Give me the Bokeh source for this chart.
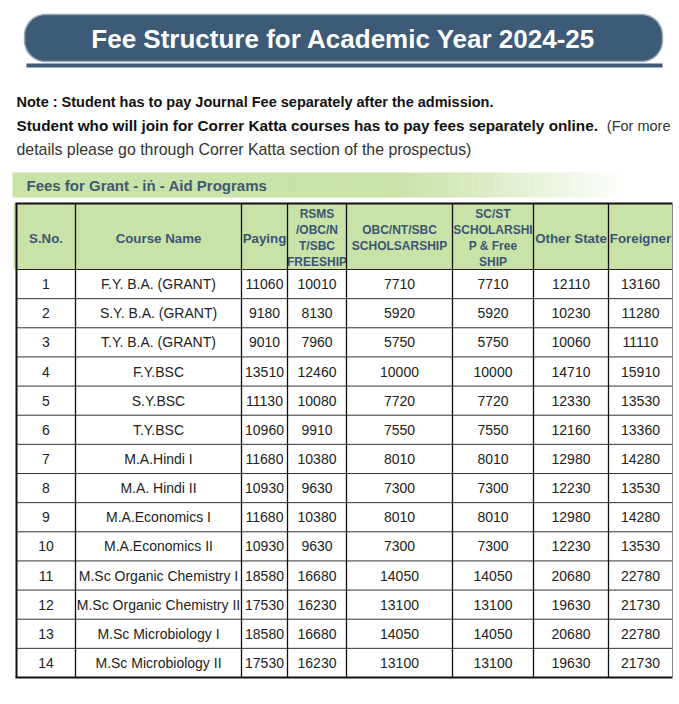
import numpy as np
from bokeh.plotting import figure
from bokeh.models import Range1d
from bokeh.core.properties import value
from bokeh.embed import file_html
from bokeh.resources import INLINE

# ---------------- data ----------------
title_text = "Fee Structure for Academic Year 2024-25"
note_line1 = "Note : Student has to pay Journal Fee separately after the admission."
note_line2_bold = "Student who will join for Correr Katta courses has to pay fees separately online."
note_line2_normal = "(For more"
note_line3 = "details please go through Correr Katta section of the prospectus)"
section_title = "Fees for Grant - iṅ - Aid Programs"

headers = [
    ["S.No."],
    ["Course Name"],
    ["Paying"],
    ["RSMS", "/OBC/N", "T/SBC", "FREESHIP"],
    ["OBC/NT/SBC", "SCHOLSARSHIP"],
    ["SC/ST", "SCHOLARSHI", "P & Free", "SHIP"],
    ["Other State"],
    ["Foreigner"],
]

sno = [str(i) for i in range(1, 15)]
courses = ["F.Y. B.A. (GRANT)", "S.Y. B.A. (GRANT)", "T.Y. B.A. (GRANT)", "F.Y.BSC",
           "S.Y.BSC", "T.Y.BSC", "M.A.Hindi I", "M.A. Hindi II", "M.A.Economics I",
           "M.A.Economics II", "M.Sc Organic Chemistry I", "M.Sc Organic Chemistry II",
           "M.Sc Microbiology I", "M.Sc Microbiology II"]
paying = [11060, 9180, 9010, 13510, 11130, 10960, 11680, 10930, 11680, 10930, 18580, 17530, 18580, 17530]
rsms = [10010, 8130, 7960, 12460, 10080, 9910, 10380, 9630, 10380, 9630, 16680, 16230, 16680, 16230]
obc_schol = [7710, 5920, 5750, 10000, 7720, 7550, 8010, 7300, 8010, 7300, 14050, 13100, 14050, 13100]
scst_schol = [7710, 5920, 5750, 10000, 7720, 7550, 8010, 7300, 8010, 7300, 14050, 13100, 14050, 13100]
other_state = [12110, 10230, 10060, 14710, 12330, 12160, 12980, 12230, 12980, 12230, 20680, 19630, 20680, 19630]
foreigner = [13160, 11280, 11110, 15910, 13530, 13360, 14280, 13530, 14280, 13530, 22780, 21730, 22780, 21730]

# ---------------- layout / style ----------------
FONT = value("Liberation Sans")
SLATE = "#3d5a77"
HEAD_TXT = "#3c5672"
GREEN = "#c9e2a8"

col_edges = [16, 75, 241, 287, 346, 452, 533, 608, 672]
table_top, header_bottom, table_bottom = 203, 269, 677

W, H = 676, 696
p = figure(width=W, height=H, x_range=Range1d(0, W), y_range=Range1d(H, 0),
           output_backend="svg", toolbar_location=None, min_border=0,
           x_axis_location=None, y_axis_location=None)
p.grid.visible = False
p.outline_line_color = None
p.background_fill_color = "white"
p.border_fill_color = "white"


def rounded_rect(x0, y0, x1, y1, r):
    xs, ys = [], []
    corners = [(x1 - r, y0 + r, -np.pi / 2, 0), (x1 - r, y1 - r, 0, np.pi / 2),
               (x0 + r, y1 - r, np.pi / 2, np.pi), (x0 + r, y0 + r, np.pi, 1.5 * np.pi)]
    for cx, cy, a0, a1 in corners:
        t = np.linspace(a0, a1, 20)
        xs.extend(cx + r * np.cos(t))
        ys.extend(cy + r * np.sin(t))
    return xs, ys

# title pill
px, py = rounded_rect(24, 14, 662, 61, 21)
p.patch(px, py, fill_color=SLATE, line_color="#9aa9b6", line_width=1.5)
p.quad(left=[26], right=[662], top=[63], bottom=[67], fill_color=SLATE, line_color=None)
p.text(x=[343], y=[38], text=[title_text], text_align="center", text_baseline="middle",
       text_font=FONT, text_font_size=value("26px"), text_font_style="bold", text_color="white")

# notes
p.text(x=[16], y=[101], text=[note_line1], text_align="left", text_baseline="middle",
       text_font=FONT, text_font_size=value("14.5px"), text_font_style="bold", text_color="#111111")
p.text(x=[16], y=[125], text=[note_line2_bold], text_align="left", text_baseline="middle",
       text_font=FONT, text_font_size=value("15.3px"), text_font_style="bold", text_color="#111111")
p.text(x=[670], y=[125], text=[note_line2_normal], text_align="right", text_baseline="middle",
       text_font=FONT, text_font_size=value("14.5px"), text_color="#333333")
p.text(x=[16], y=[149], text=[note_line3], text_align="left", text_baseline="middle",
       text_font=FONT, text_font_size=value("15.9px"), text_color="#333333")

# section banner with fade
gx = np.linspace(12, 625, 200)
alphas = np.clip((625 - gx[:-1]) / (625 - 390), 0, 1)
p.quad(left=gx[:-1], right=gx[1:] + 0.5, top=172, bottom=197, fill_color=GREEN,
       fill_alpha=alphas, line_color=None)
p.text(x=[26], y=[185], text=[section_title], text_align="left", text_baseline="middle",
       text_font=FONT, text_font_size=value("15px"), text_font_style="bold", text_color="#3f5a70")

# header background
p.quad(left=[13], right=[672], top=[table_top], bottom=[header_bottom], fill_color=GREEN, line_color=None)

# header texts
line_gap = 16
for i, lines in enumerate(headers):
    cx = (col_edges[i] + col_edges[i + 1]) / 2
    n = len(lines)
    mid = (table_top + header_bottom) / 2 + 1.5
    ys = [mid + (k - (n - 1) / 2) * line_gap for k in range(n)]
    fs = "12px" if n > 1 else "13.3px"
    p.text(x=[cx] * n, y=ys, text=lines, text_align="center", text_baseline="middle",
           text_font=FONT, text_font_size=value(fs), text_font_style="bold", text_color=HEAD_TXT)

# body
columns = [sno, courses, paying, rsms, obc_schol, scst_schol, other_state, foreigner]
row_h = (table_bottom - header_bottom) / len(sno)
for i, col in enumerate(columns):
    cx = (col_edges[i] + col_edges[i + 1]) / 2
    ys = [header_bottom + (r + 0.5) * row_h for r in range(len(col))]
    p.text(x=[cx] * len(col), y=ys, text=[str(v) for v in col], text_align="center",
           text_baseline="middle", text_font=FONT, text_font_size=value("14px"),
           text_color="#222222")

# grid lines
hy = [header_bottom + r * row_h for r in range(1, len(sno))]
p.segment(x0=[16] * len(hy), x1=[672] * len(hy), y0=hy, y1=hy, line_color="#333333", line_width=1)
p.segment(x0=[16], x1=[672], y0=[header_bottom], y1=[header_bottom], line_color="#222222", line_width=1.2)
p.segment(x0=[15], x1=[672], y0=[table_top], y1=[table_top], line_color="#111111", line_width=2.2)
p.segment(x0=[15], x1=[672], y0=[table_bottom], y1=[table_bottom], line_color="#111111", line_width=2)
vx = col_edges[:-1]
p.segment(x0=vx, x1=vx, y0=[table_top] * len(vx), y1=[table_bottom] * len(vx),
          line_color="#111111", line_width=[2] + [1.3] * (len(vx) - 1))
p.segment(x0=[672], x1=[672], y0=[table_top], y1=[table_bottom], line_color="#888888", line_width=1)

open("out.html", "w").write(file_html(p, INLINE))
